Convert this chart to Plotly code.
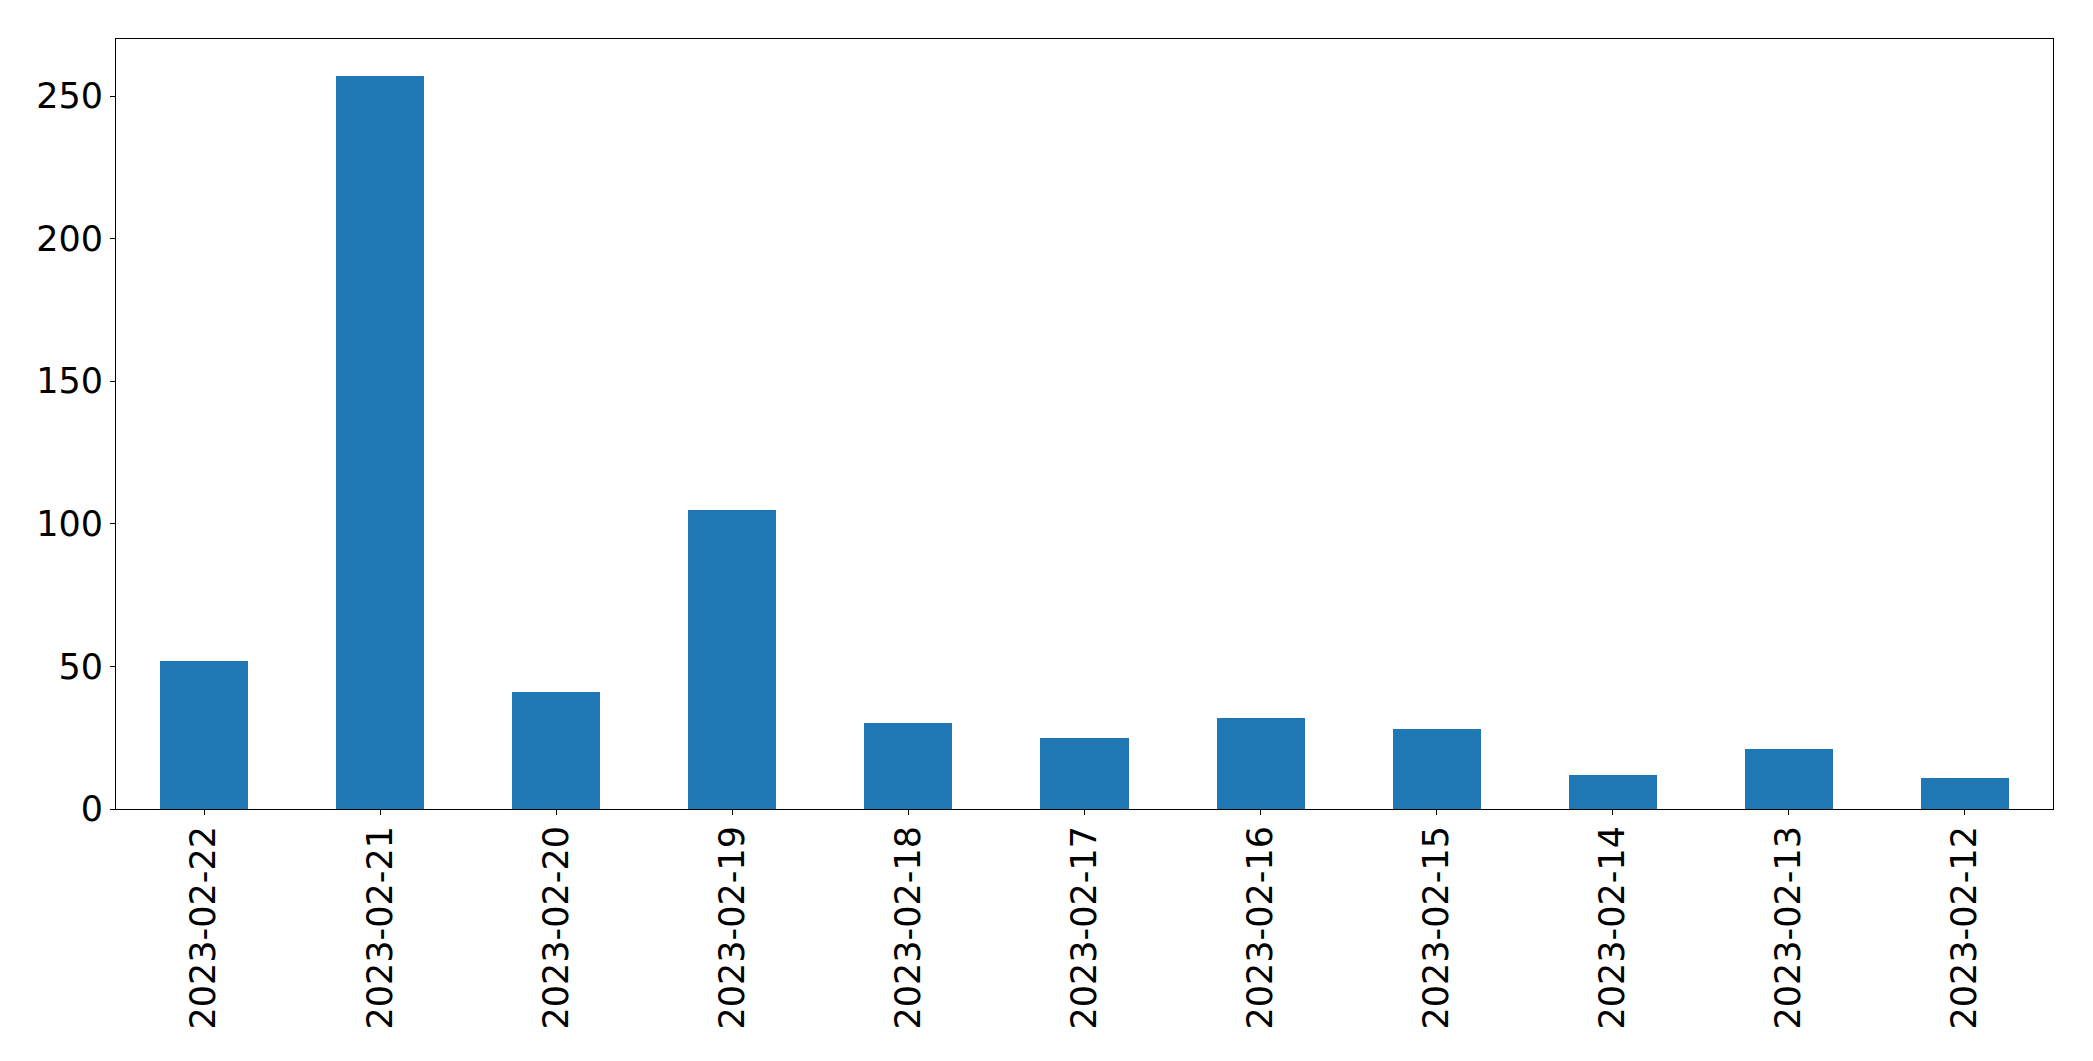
import plotly.graph_objects as go

dates = ["2023-02-22", "2023-02-21", "2023-02-20", "2023-02-19", "2023-02-18",
         "2023-02-17", "2023-02-16", "2023-02-15", "2023-02-14", "2023-02-13",
         "2023-02-12"]
counts = [52, 257, 41, 105, 30, 25, 32, 28, 12, 21, 11]
y_ticks = [0, 50, 100, 150, 200, 250]

fig = go.Figure(go.Bar(x=dates, y=counts, width=0.5, marker_color="#1f77b4",
                       marker_line_width=0))

axis_common = dict(showline=True, linecolor="black", linewidth=1.1, mirror=True,
                   ticks="outside", ticklen=5, tickwidth=1.1, tickcolor="black",
                   showgrid=False, zeroline=False,
                   tickfont=dict(family="DejaVu Sans", size=35, color="black"))

fig.update_layout(
    width=2093, height=1061,
    margin=dict(l=108, r=48, t=31, b=260, autoexpand=False),
    paper_bgcolor="white", plot_bgcolor="white",
    showlegend=False,
    bargap=0,
    xaxis=dict(type="category", range=[-0.5, len(dates) - 0.5], tickangle=-90,
               ticklabelstandoff=-3, **axis_common),
    yaxis=dict(range=[0, 270], tickvals=y_ticks, ticktext=[str(t) for t in y_ticks],
               **axis_common),
)

fig.write_html("out.html")
